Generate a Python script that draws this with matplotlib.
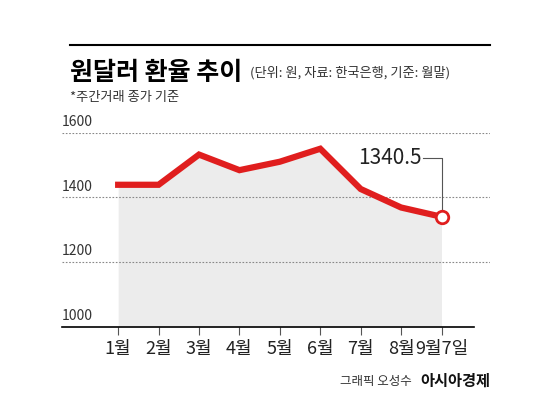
import matplotlib.pyplot as plt

plt.rcParams['font.family'] = ['Noto Sans CJK KR', 'DejaVu Sans']

months = ['1월', '2월', '3월', '4월', '5월', '6월', '7월', '8월', '9월7일']
rates = [1439, 1439, 1532, 1484, 1510, 1550, 1426, 1369, 1340.5]
yticks = [1000, 1200, 1400, 1600]

fig = plt.figure(figsize=(5.5, 4.18), dpi=100)
ax = fig.add_axes([62 / 550, 0.217, 428 / 550, 0.466])
xs = list(range(len(months)))
ax.fill_between(xs, rates, 1000, color='#ececec', lw=0)
ax.plot(xs, rates, color='#e01e1e', lw=4.5, solid_joinstyle='miter', clip_on=False, zorder=3)
ax.plot(xs[-1], rates[-1], 'o', ms=9, mfc='white', mec='#e01e1e', mew=2, zorder=4, clip_on=False)
ax.set_xlim(-1.39, 9.2)
ax.set_ylim(1000, 1600)
for t in yticks[1:]:
    ax.axhline(t, color='#888888', lw=0.8, ls=(0, (1.5, 1.5)))
for t in yticks:
    ax.text(-1.39, t + 12, str(t), fontsize=10, color='#333333', ha='left', va='bottom')
for s in ['top', 'right', 'left']:
    ax.spines[s].set_visible(False)
ax.spines['bottom'].set_linewidth(1.2)
ax.spines['bottom'].set_bounds(-1.39, 8.8)
ax.set_yticks([])
ax.set_xticks(xs)
ax.set_xticklabels(months, fontsize=13, color='#222222')
ax.tick_params(axis='x', length=6, width=0.8, color='#555555', pad=3)

# annotation
ax.plot([xs[-1], xs[-1], xs[-1] - 0.45], [rates[-1] + 25, 1520, 1520], color='#555555', lw=0.8)
ax.text(xs[-1] - 0.5, 1520, f'{rates[-1]}', fontsize=15, ha='right', va='center', color='#222222')

# header
fig.add_artist(plt.Line2D([70 / 550, 490 / 550], [1 - 45 / 418] * 2, color='black', lw=1.5))
fig.text(70 / 550, 1 - 73 / 418, '원달러 환율 추이', fontsize=18, fontweight='bold', va='center')
fig.text(250 / 550, 1 - 73 / 418, '(단위: 원, 자료: 한국은행, 기준: 월말)', fontsize=9.5, va='center', color='#333333')
fig.text(70 / 550, 1 - 97 / 418, '*주간거래 종가 기준', fontsize=9.5, va='center', color='#333333')
fig.text(340 / 550, 1 - 381 / 418, '그래픽 오성수', fontsize=9, va='center', color='#333333')
fig.text(420 / 550, 1 - 381 / 418, '아시아경제', fontsize=11, fontweight='bold', va='center', color='#111111')

fig.savefig('out.png', dpi=100)
